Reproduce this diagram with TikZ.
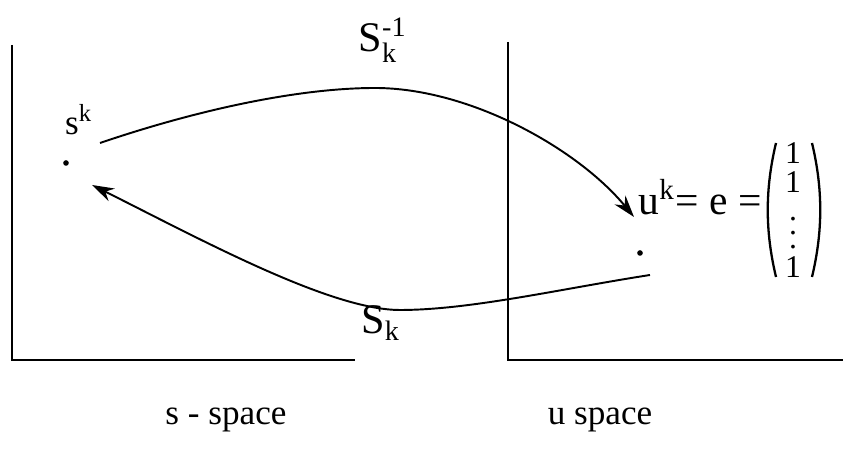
\documentclass[tikz,border=0pt]{standalone}
\usepackage{amsmath}
\usepackage{fontspec}
\setmainfont{Liberation Serif}
\usetikzlibrary{arrows.meta,positioning}

\begin{document}
\begin{tikzpicture}[x=0.01cm, y=0.01cm, every node/.style={font=\normalsize},
      frame/.style={draw=black, line width=0.5pt},
      paren/.style={draw=black, line width=0.65pt},
      pt/.style={circle, fill=black, inner sep=0pt, minimum size=1.6pt},
      arr/.style={-{Stealth[length=2.2mm, width=1.4mm]}, draw=black, line width=0.55pt}]
    \useasboundingbox (0,0) rectangle (845,449);
    % the two spaces
    \draw[frame] (12,404) -- (12,89) -- (355,89);
    \draw[frame] (508,407) -- (508,89) -- (843,89);
    \node (sspace) at (226,29) {s - space};
    \node (uspace) at (600,29) {u space};
    % points and labels
    \node[pt] (s) at (66,286) {};
    \node[pt] (u) at (640,196) {};
    \node (slab) at (79,329) {s$^{\text{k}}$};
    \node[anchor=base west, inner sep=0pt, font=\fontsize{11.8}{13}\selectfont] (ulab) at (638,234) {u$^{\text{k}}$= e =};
    \node[inner sep=0pt, align=center, font=\fontsize{9}{8.2}\selectfont] (col) at (793,239) {1\\1\\$\vdots$\\1};
    \draw[paren] ([shift={(-17,67)}]col.center) .. controls ([shift={(-28,21)}]col.center)
      and ([shift={(-28,-21)}]col.center) .. ([shift={(-17,-67)}]col.center);
    \draw[paren] ([shift={(19,67)}]col.center) .. controls ([shift={(30,21)}]col.center)
      and ([shift={(30,-21)}]col.center) .. ([shift={(19,-67)}]col.center);
    \node[font=\large] (Sinv) at (383,409) {S$_{\text{k}}^{\text{-1}}$};
    \node[font=\large] (S) at (381,126) {S$_{\text{k}}$};
    % maps
    \draw[arr] ([shift={(34,20)}]s.center) .. controls (200,340) and (300,361) .. (375,361)
      .. controls (470,361) and (578,300) .. ([shift={(-6,36)}]u.center);
    \draw[arr] ([shift={(10,-22)}]u.center) .. controls (560,160) and (470,139) .. (400,139)
      .. controls (330,139) and (200,210) .. ([shift={(26,-22)}]s.center);
  \end{tikzpicture}
\end{document}
